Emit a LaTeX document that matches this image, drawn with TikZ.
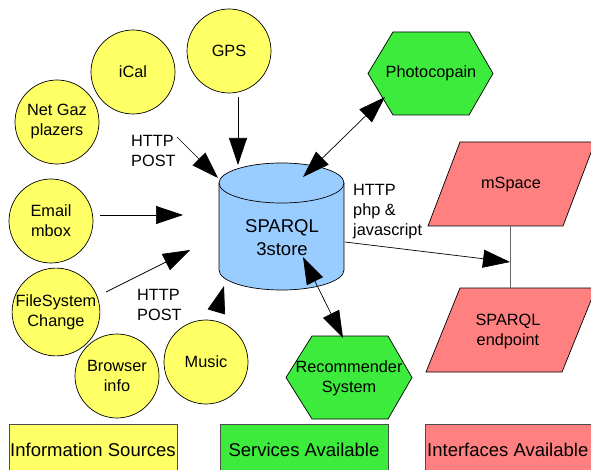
\documentclass[tikz,border=0pt]{standalone}
\usepackage{fontspec}
\setmainfont{Liberation Sans}
\usetikzlibrary{arrows.meta}
\definecolor{srcyellow}{HTML}{FFFF66}
\definecolor{svcgreen}{HTML}{3DEB3D}
\definecolor{ifcred}{HTML}{FF8080}
\definecolor{storeblue}{HTML}{99CCFF}
\begin{document}
\begin{tikzpicture}[x=1pt,y=-1pt,
  every node/.style={font=\fontsize{16.3}{20}\selectfont, align=center, inner sep=0pt},
  src/.style={circle, draw, fill=srcyellow, minimum size=84pt, line width=0.7pt},
  shapeline/.style={draw, line width=0.7pt},
  legend/.style={draw=black!70, line width=0.7pt},
  bigtext/.style={font=\fontsize{18.5}{23}\selectfont},
  lbl/.style={align=left, anchor=west},
  arr/.style={-{Triangle[length=27pt,width=18pt]}, line width=0.7pt},
  barr/.style={{Triangle[length=27pt,width=18pt]}-{Triangle[length=27pt,width=18pt]}, line width=0.7pt},
  link/.style={draw=black!60, line width=0.9pt}
]
\useasboundingbox (0,0) rectangle (591,470);
\clip (0,0) rectangle (591,470);

% information sources
\node[src] (gps) at (229,51) {GPS};
\node[src] (ical) at (133,72) {iCal};
\node[src] (netgaz) at (57,122) {Net Gaz\\plazers};
\node[src] (email) at (51,221) {Email\\mbox};
\node[src] (fs) at (56,312) {FileSystem\\Change};
\node[src] (browser) at (117,376) {Browser\\info};
\node[src] (music) at (206,362) {Music};

% 3store cylinder
\path[shapeline, fill=storeblue] (219,183) -- (219,270)
  arc[start angle=180, end angle=0, x radius=62.5, y radius=20] -- (344,183)
  arc[start angle=360, end angle=180, x radius=62.5, y radius=20] -- cycle;
\draw[line width=0.7pt] (219,183) arc[start angle=180, end angle=0, x radius=62.5, y radius=20];
\node[bigtext] (store) at (282,238) {SPARQL\\3store};

% services
\path[shapeline, fill=svcgreen] (368,73.5) -- (393,32) -- (469,32) -- (493,73.5) -- (469,115) -- (393,115) -- cycle;
\node (photo) at (431,73) {Photocopain};
\path[shapeline, fill=svcgreen] (286,377.5) -- (312,336) -- (388,336) -- (412,377.5) -- (388,419) -- (312,419) -- cycle;
\node (recomm) at (349,378) {Recommender\\System};

% interfaces
\path[shapeline, fill=ifcred] (460,142) -- (595,142) -- (563,226) -- (428,226) -- cycle;
\node (mspace) at (511,185) {mSpace};
\path[shapeline, fill=ifcred] (460,288) -- (596,288) -- (562,372) -- (426,372) -- cycle;
\node (endpoint) at (508,331) {SPARQL\\endpoint};

% labels
\node[lbl] (post1) at (131,151) {HTTP\\POST};
\node[lbl] (post2) at (137,305) {HTTP\\POST};
\node[lbl] (php) at (353,212) {HTTP\\php \&\\javascript};

% connector end points
\coordinate (gpsout) at (238,97);
\coordinate (gpsin) at (238,165);
\coordinate (postout) at (177,137);
\coordinate (postin) at (218,178);
\coordinate (emailout) at (100,215);
\coordinate (emailin) at (183,215);
\coordinate (fsout) at (106,292);
\coordinate (fsin) at (190,250);
\coordinate (musicout) at (216.3,312);
\coordinate (musicin) at (224,286);
\coordinate (storetop) at (303,177);
\coordinate (photoin) at (385,97);
\coordinate (storemid) at (303,257);
\coordinate (recommin) at (343,338);
\coordinate (storeright) at (345,242);
\coordinate (junction) at (510,262);
\coordinate (mspacebot) at (510,226);
\coordinate (endtop) at (510,288);

\draw[arr] (gpsout) -- (gpsin);
\draw[arr] (postout) -- (postin);
\draw[arr] (emailout) -- (emailin);
\draw[arr] (fsout) -- (fsin);
\draw[arr] (musicout) -- (musicin);
\draw[barr] (storetop) -- (photoin);
\draw[barr] (storemid) -- (recommin);
\draw[link] (mspacebot) -- (endtop);
\draw[arr] (storeright) -- (junction);

% legend
\path[legend, fill=srcyellow] (9,424) rectangle (177,480);
\node[bigtext] (legsrc) at (93,450) {Information Sources};
\path[legend, fill=svcgreen] (220,424) rectangle (388,480);
\node[bigtext] (legsvc) at (304,450) {Services Available};
\path[legend, fill=ifcred] (425,424) rectangle (600,480);
\node[bigtext, anchor=west] (legifc) at (427,450) {Interfaces Available};
\end{tikzpicture}
\end{document}
